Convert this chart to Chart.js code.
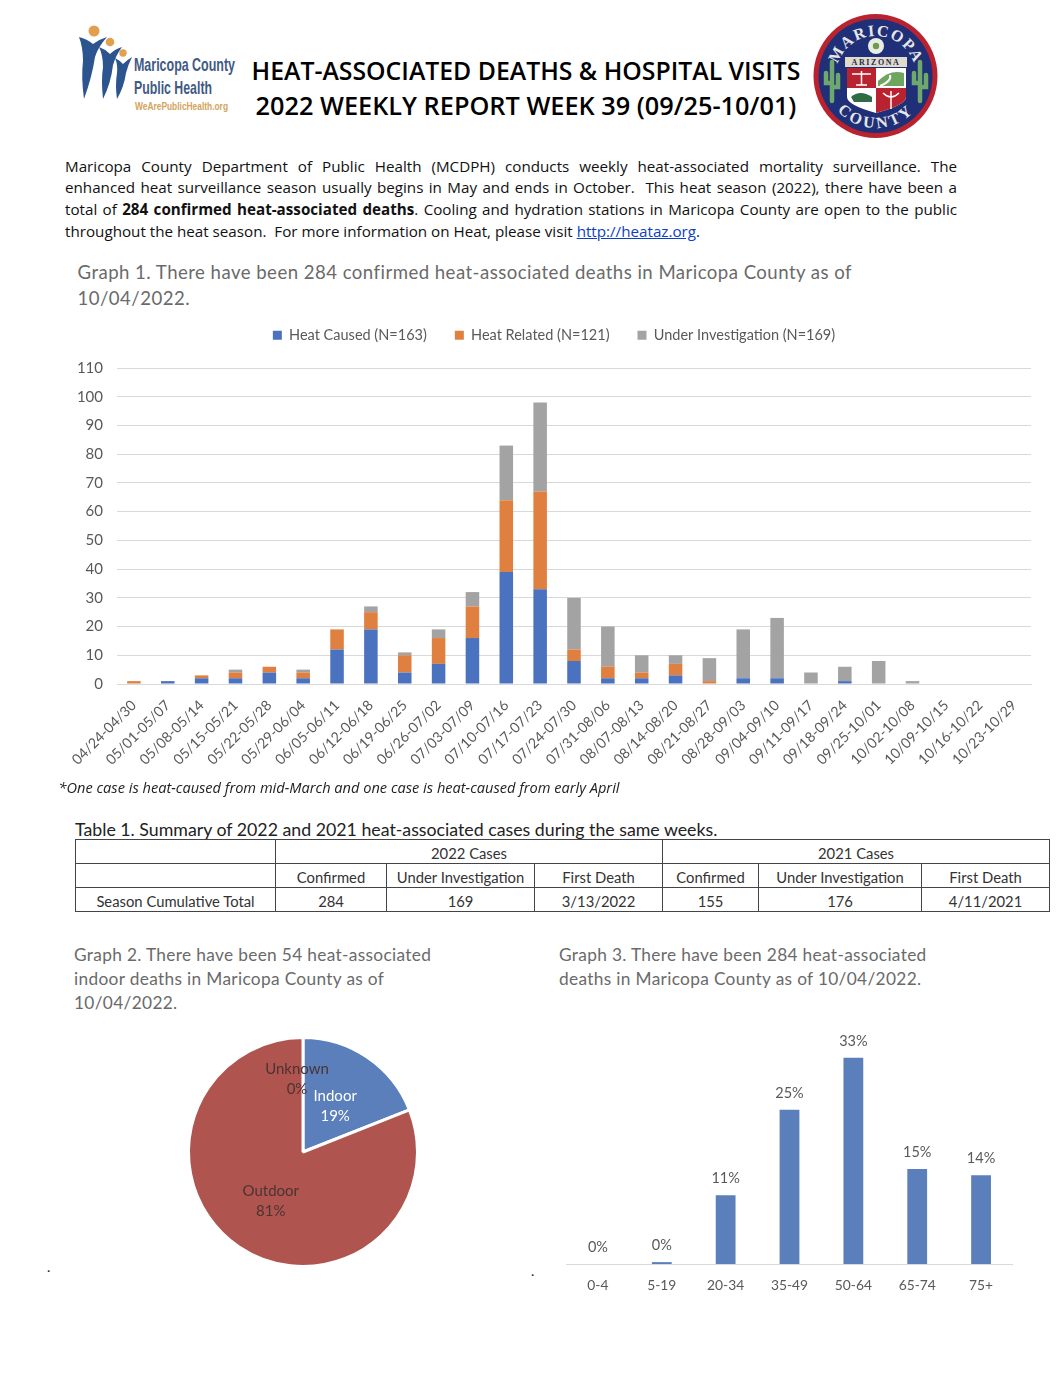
<!DOCTYPE html>
<html>
<head>
<meta charset="utf-8">
<title>Heat-associated deaths</title>
<script src="https://cdn.jsdelivr.net/npm/chart.js@4"></script>
<style>
  body { margin: 0; background: #fff; width: 1064px; height: 1382px; position: relative; overflow: hidden; font-family: "Open Sans", sans-serif; }
  .t { position: absolute; white-space: nowrap; }
  .title { left: 206px; width: 640px; text-align: center; font-family: "Open Sans"; font-weight: 600; line-height: 1; color: #000; }
  .para { left: 65px; width: 892px; font: 15.2px/1 "Open Sans"; color: #111; text-align: justify; text-align-last: justify; }
  .gtitle { font: 18.6px/1 Lato; color: #6a6a6a; letter-spacing: .46px; }
  .gsmall { font-size: 17.3px; letter-spacing: .33px; }
  canvas { position: absolute; }
  table { position: absolute; left: 75px; top: 839px; width: 974px; height: 72px; border-collapse: collapse; table-layout: fixed; font: 14.8px Lato; color: #333; }
  td { border: 1px solid #444; text-align: center; padding: 4px 0 0; height: 19px; line-height: 1; }
</style>
</head>
<body>

<svg class="t" style="left:70px;top:15px" width="170" height="105" viewBox="0 0 170 105">
  <circle cx="24" cy="16" r="5.5" fill="#e2a04e"/>
  <circle cx="40" cy="27" r="4.3" fill="#e2a04e"/>
  <circle cx="53" cy="38" r="3.7" fill="#e2a04e"/>
  <path d="M9 22 Q17 24 23 29 Q30 24 37 22 Q28 32 25 42 Q22 62 14 84 Q11 62 13 46 Q13 32 9 22Z" fill="#2c5590"/>
  <path d="M29 32 Q35 34 40 39 Q45 34 52 32 Q46 40 43 50 Q41 68 33 84 Q31 65 33 52 Q33 40 29 32Z" fill="#2c5590"/>
  <path d="M45 43 Q49 45 53 49 Q57 45 62 42 Q58 50 56 58 Q54 72 47 84 Q45 70 47 58 Q48 50 45 43Z" fill="#2c5590"/>
  <g font-family="Liberation Sans" font-weight="700">
    <text x="64" y="56" font-size="19" fill="#3f5a85" textLength="101" lengthAdjust="spacingAndGlyphs">Maricopa County</text>
    <text x="64" y="79" font-size="19" fill="#3f5a85" textLength="78" lengthAdjust="spacingAndGlyphs">Public Health</text>
    <text x="65" y="95" font-size="11.5" fill="#d2a45c" textLength="93" lengthAdjust="spacingAndGlyphs">WeArePublicHealth.org</text>
  </g>
</svg>

<svg class="t" style="left:810px;top:9px" width="132" height="132" viewBox="0 0 132 132">
  <defs>
    <path id="arcTop" d="M26 67 A40 40 0 1 1 106 67"/>
    <path id="arcBot" d="M14 67 A52 52 0 0 0 118 67"/>
  </defs>
  <circle cx="65.5" cy="67" r="62" fill="#b8232f"/>
  <circle cx="65.5" cy="67" r="57" fill="#1f2f78"/>
  <text font-family="Liberation Serif" font-weight="700" font-size="16" fill="#e6e6e6" letter-spacing="1.6"><textPath href="#arcTop" startOffset="50%" text-anchor="middle">MARICOPA</textPath></text>
  <text font-family="Liberation Serif" font-weight="700" font-size="16" fill="#e6e6e6" letter-spacing="3"><textPath href="#arcBot" startOffset="50%" text-anchor="middle">COUNTY</textPath></text>
  <circle cx="66" cy="37" r="8" fill="#e8efe2"/><circle cx="66" cy="37" r="3.2" fill="#6f9a55"/>
  <path d="M35 48 H97 V58 H35Z" fill="#e0dccb"/>
  <text x="66" y="56" font-family="Liberation Serif" font-weight="700" font-size="8" fill="#2a2a50" text-anchor="middle" letter-spacing="1.6">ARIZONA</text>
  <path d="M37 59 H96 V88 Q96 96 66 104 Q37 96 37 88Z" fill="#fff"/>
  <path d="M37 59 H66 V79 H37Z M66 79 H96 V88 Q96 96 66 104Z" fill="#b8232f"/>
  <path d="M68 72 Q80 60 94 64 V77 H68Z" fill="#6fa65f"/>
  <path d="M70 77 Q82 72 80 66" stroke="#fff" stroke-width="2" fill="none"/>
  <path d="M41 88 Q50 80 62 88 V93 H44Z" fill="#2f6b45"/>
  <path d="M42 65 H61 M51.5 62 V76 M46 76 H57" stroke="#fff" stroke-width="1.5" fill="none"/>
  <path d="M81 82 V100 M73 84 Q81 92 89 84" stroke="#fff" stroke-width="1.5" fill="none"/>
  <g stroke="#6fa86c" stroke-width="4.5" fill="none" stroke-linecap="round">
    <path d="M22 53 V92 M22 74 H16 V64 M22 78 H28 V66"/>
    <path d="M110 53 V92 M110 74 H104 V64 M110 78 H116 V66"/>
  </g>
</svg>

<div class="t title" style="top:58px;font-size:24.8px">HEAT-ASSOCIATED DEATHS &amp; HOSPITAL VISITS</div>
<div class="t title" style="top:93px;font-size:25.3px">2022 WEEKLY REPORT WEEK 39 (09/25-10/01)</div>

<div class="t para" style="top:158.5px">Maricopa County Department of Public Health (MCDPH) conducts weekly heat-associated mortality surveillance. The</div>
<div class="t para" style="top:180px">enhanced heat surveillance season usually begins in May and ends in October.&nbsp; This heat season (2022), there have been a</div>
<div class="t para" style="top:201.5px">total of <b>284 confirmed heat-associated deaths</b>. Cooling and hydration stations in Maricopa County are open to the public</div>
<div class="t para" style="top:223.5px;width:auto;text-align-last:left">throughout the heat season.&nbsp; For more information on Heat, please visit <a href="#" style="color:#0b3fc4">http://heataz.org</a>.</div>

<div class="t gtitle" style="left:77.5px;top:263px">Graph 1. There have been 284 confirmed heat-associated deaths in Maricopa County as of</div>
<div class="t gtitle" style="left:77.5px;top:289px">10/04/2022.</div>

<canvas id="weekly" width="980" height="490" style="left:65px;top:300px"></canvas>

<div class="t" style="left:58.5px;top:780px;font:italic 14.6px/1 'Open Sans';color:#222">*One case is heat-caused from mid-March and one case is heat-caused from early April</div>
<div class="t" style="left:75px;top:821px;font:17.75px/1 Lato;color:#222">Table 1. Summary of 2022 and 2021 heat-associated cases during the same weeks.</div>

<table id="summary"></table>

<div class="t gtitle gsmall" style="left:74px;top:946px">Graph 2. There have been 54 heat-associated</div>
<div class="t gtitle gsmall" style="left:74px;top:970px">indoor deaths in Maricopa County as of</div>
<div class="t gtitle gsmall" style="left:74px;top:994px">10/04/2022.</div>
<div class="t gtitle gsmall" style="left:559px;top:946px">Graph 3. There have been 284 heat-associated</div>
<div class="t gtitle gsmall" style="left:559px;top:970px">deaths in Maricopa County as of 10/04/2022.</div>

<canvas id="place" width="270" height="260" style="left:168px;top:1022px"></canvas>
<canvas id="age" width="447" height="286" style="left:566px;top:1014px"></canvas>

<div class="t" style="left:47px;top:1260px;font:14px/1 Lato;color:#222">.</div>
<div class="t" style="left:531px;top:1264px;font:14px/1 Lato;color:#222">.</div>

<script>
const weeks = ['04/24-04/30','05/01-05/07','05/08-05/14','05/15-05/21','05/22-05/28','05/29-06/04','06/05-06/11','06/12-06/18','06/19-06/25','06/26-07/02','07/03-07/09','07/10-07/16','07/17-07/23','07/24-07/30','07/31-08/06','08/07-08/13','08/14-08/20','08/21-08/27','08/28-09/03','09/04-09/10','09/11-09/17','09/18-09/24','09/25-10/01','10/02-10/08','10/09-10/15','10/16-10/22','10/23-10/29'];
const heatCaused = [0,1,2,2,4,2,12,19,4,7,16,39,33,8,2,2,3,0,2,2,0,1,0,0,0,0,0];
const heatRelated = [1,0,1,2,2,2,7,6,6,9,11,25,34,4,4,2,4,1,0,0,0,0,0,0,0,0,0];
const underInvestigation = [0,0,0,1,0,1,0,2,1,3,5,19,31,18,14,6,3,8,17,21,4,5,8,1,0,0,0];

const placeLabels = ['Indoor','Outdoor','Unknown'];
const placeValues = [19,81,0];

const ageGroups = ['0-4','5-19','20-34','35-49','50-64','65-74','75+'];
const agePercents = [0,0.3,11,24.7,33,15.2,14.2];

const tableRows = [
  [['',1],['2022 Cases',3],['2021 Cases',3]],
  [['',1],['Confirmed',1],['Under Investigation',1],['First Death',1],['Confirmed',1],['Under Investigation',1],['First Death',1]],
  [['Season Cumulative Total',1],['284',1],['169',1],['3/13/2022',1],['155',1],['176',1],['4/11/2021',1]]
];
const columnWidths = [200,111,148,128,96,163,128];

const table = document.getElementById('summary');
const colgroup = document.createElement('colgroup');
columnWidths.forEach(w => {
  const col = document.createElement('col');
  col.style.width = w + 'px';
  colgroup.appendChild(col);
});
table.appendChild(colgroup);
tableRows.forEach(row => {
  const tr = table.insertRow();
  row.forEach(cell => {
    const td = tr.insertCell();
    td.textContent = cell[0];
    td.colSpan = cell[1];
  });
});

// keeps the plot top fixed whatever the legend measures
const legendHeight = {
  id: 'legendHeight',
  beforeInit(chart) {
    const fit = chart.legend.fit;
    chart.legend.fit = function () {
      fit.call(this);
      this.height = 68;
    };
  }
};

new Chart(document.getElementById('weekly'), {
  type: 'bar',
  data: {
    labels: weeks,
    datasets: [
      { label: 'Heat Caused (N=163)', data: heatCaused, backgroundColor: '#4a72bf' },
      { label: 'Heat Related (N=121)', data: heatRelated, backgroundColor: '#df8040' },
      { label: 'Under Investigation (N=169)', data: underInvestigation, backgroundColor: '#a3a3a3' }
    ]
  },
  options: {
    responsive: false,
    animation: false,
    // left padding pushes the legend right
    layout: { padding: { left: 12, right: 14 } },
    datasets: { bar: { barPercentage: 0.4, categoryPercentage: 1 } },
    plugins: {
      tooltip: { enabled: false },
      legend: {
        position: 'top',
        labels: { boxWidth: 9, boxHeight: 9, padding: 28, color: '#595959', font: { family: 'Lato', size: 14.5 } }
      }
    },
    scales: {
      x: {
        stacked: true,
        grid: { display: false },
        border: { color: '#d9d9d9', width: 1 },
        ticks: { minRotation: 45, maxRotation: 45, autoSkip: false, padding: 5, color: '#595959', font: { family: 'Lato', size: 14.2 } },
        afterFit(scale) {
          scale.height = 106;
          scale.paddingLeft = 0;
        }
      },
      y: {
        stacked: true,
        min: 0,
        max: 110,
        grid: { color: '#d9d9d9', drawTicks: false },
        border: { display: false },
        ticks: { stepSize: 10, padding: 14, color: '#595959', font: { family: 'Lato', size: 15 } },
        afterFit(scale) { scale.width = 40; }
      }
    }
  },
  plugins: [legendHeight]
});

const pieLabels = {
  id: 'pieLabels',
  afterDatasetsDraw(chart) {
    const c = chart.ctx;
    c.save();
    c.textAlign = 'center';
    c.textBaseline = 'middle';
    c.font = '15px Lato';
    chart.getDatasetMeta(0).data.forEach((arc, i) => {
      const p = arc.getProps(['x', 'y', 'outerRadius', 'startAngle', 'endAngle']);
      const mid = (p.startAngle + p.endAngle) / 2;
      // the empty slice sits further out, nudged left of the 12 o'clock line
      const r = placeValues[i] === 0 ? p.outerRadius * 0.65 : p.outerRadius * 0.5;
      const x = p.x + Math.cos(mid) * r - (placeValues[i] === 0 ? 6 : 0);
      const y = p.y + Math.sin(mid) * r;
      c.fillStyle = i === 0 ? '#fff' : '#4a3434';
      c.fillText(placeLabels[i], x, y - 8);
      c.fillText(placeValues[i] + '%', x, y + 12);
    });
    c.restore();
  }
};

new Chart(document.getElementById('place'), {
  type: 'pie',
  data: {
    labels: placeLabels,
    datasets: [{ data: placeValues, backgroundColor: ['#5a7fbb', '#b0544f', '#9bbb59'], borderColor: '#fff', borderWidth: 3 }]
  },
  options: {
    responsive: false,
    animation: false,
    layout: { padding: { top: 14, bottom: 14, left: 19, right: 19 } },
    plugins: { legend: { display: false }, tooltip: { enabled: false } }
  },
  plugins: [pieLabels]
});

const barLabels = {
  id: 'barLabels',
  afterDatasetsDraw(chart) {
    const c = chart.ctx;
    c.save();
    c.textAlign = 'center';
    c.textBaseline = 'middle';
    c.font = '14.5px Lato';
    c.fillStyle = '#595959';
    chart.getDatasetMeta(0).data.forEach((bar, i) => {
      c.fillText(Math.round(agePercents[i]) + '%', bar.x, bar.y - 16.5);
    });
    c.restore();
  }
};

new Chart(document.getElementById('age'), {
  type: 'bar',
  data: {
    labels: ageGroups,
    datasets: [{ data: agePercents, backgroundColor: '#5a7fbb', barPercentage: 0.31, categoryPercentage: 1 }]
  },
  options: {
    responsive: false,
    animation: false,
    plugins: { legend: { display: false }, tooltip: { enabled: false } },
    scales: {
      x: {
        grid: { display: false },
        border: { color: '#d9d9d9' },
        ticks: { color: '#595959', padding: 5, font: { family: 'Lato', size: 13.8 } },
        afterFit(scale) { scale.height = 36; }
      },
      y: { display: false, min: 0, max: 40 }
    }
  },
  plugins: [barLabels]
});
</script>
</body>
</html>
